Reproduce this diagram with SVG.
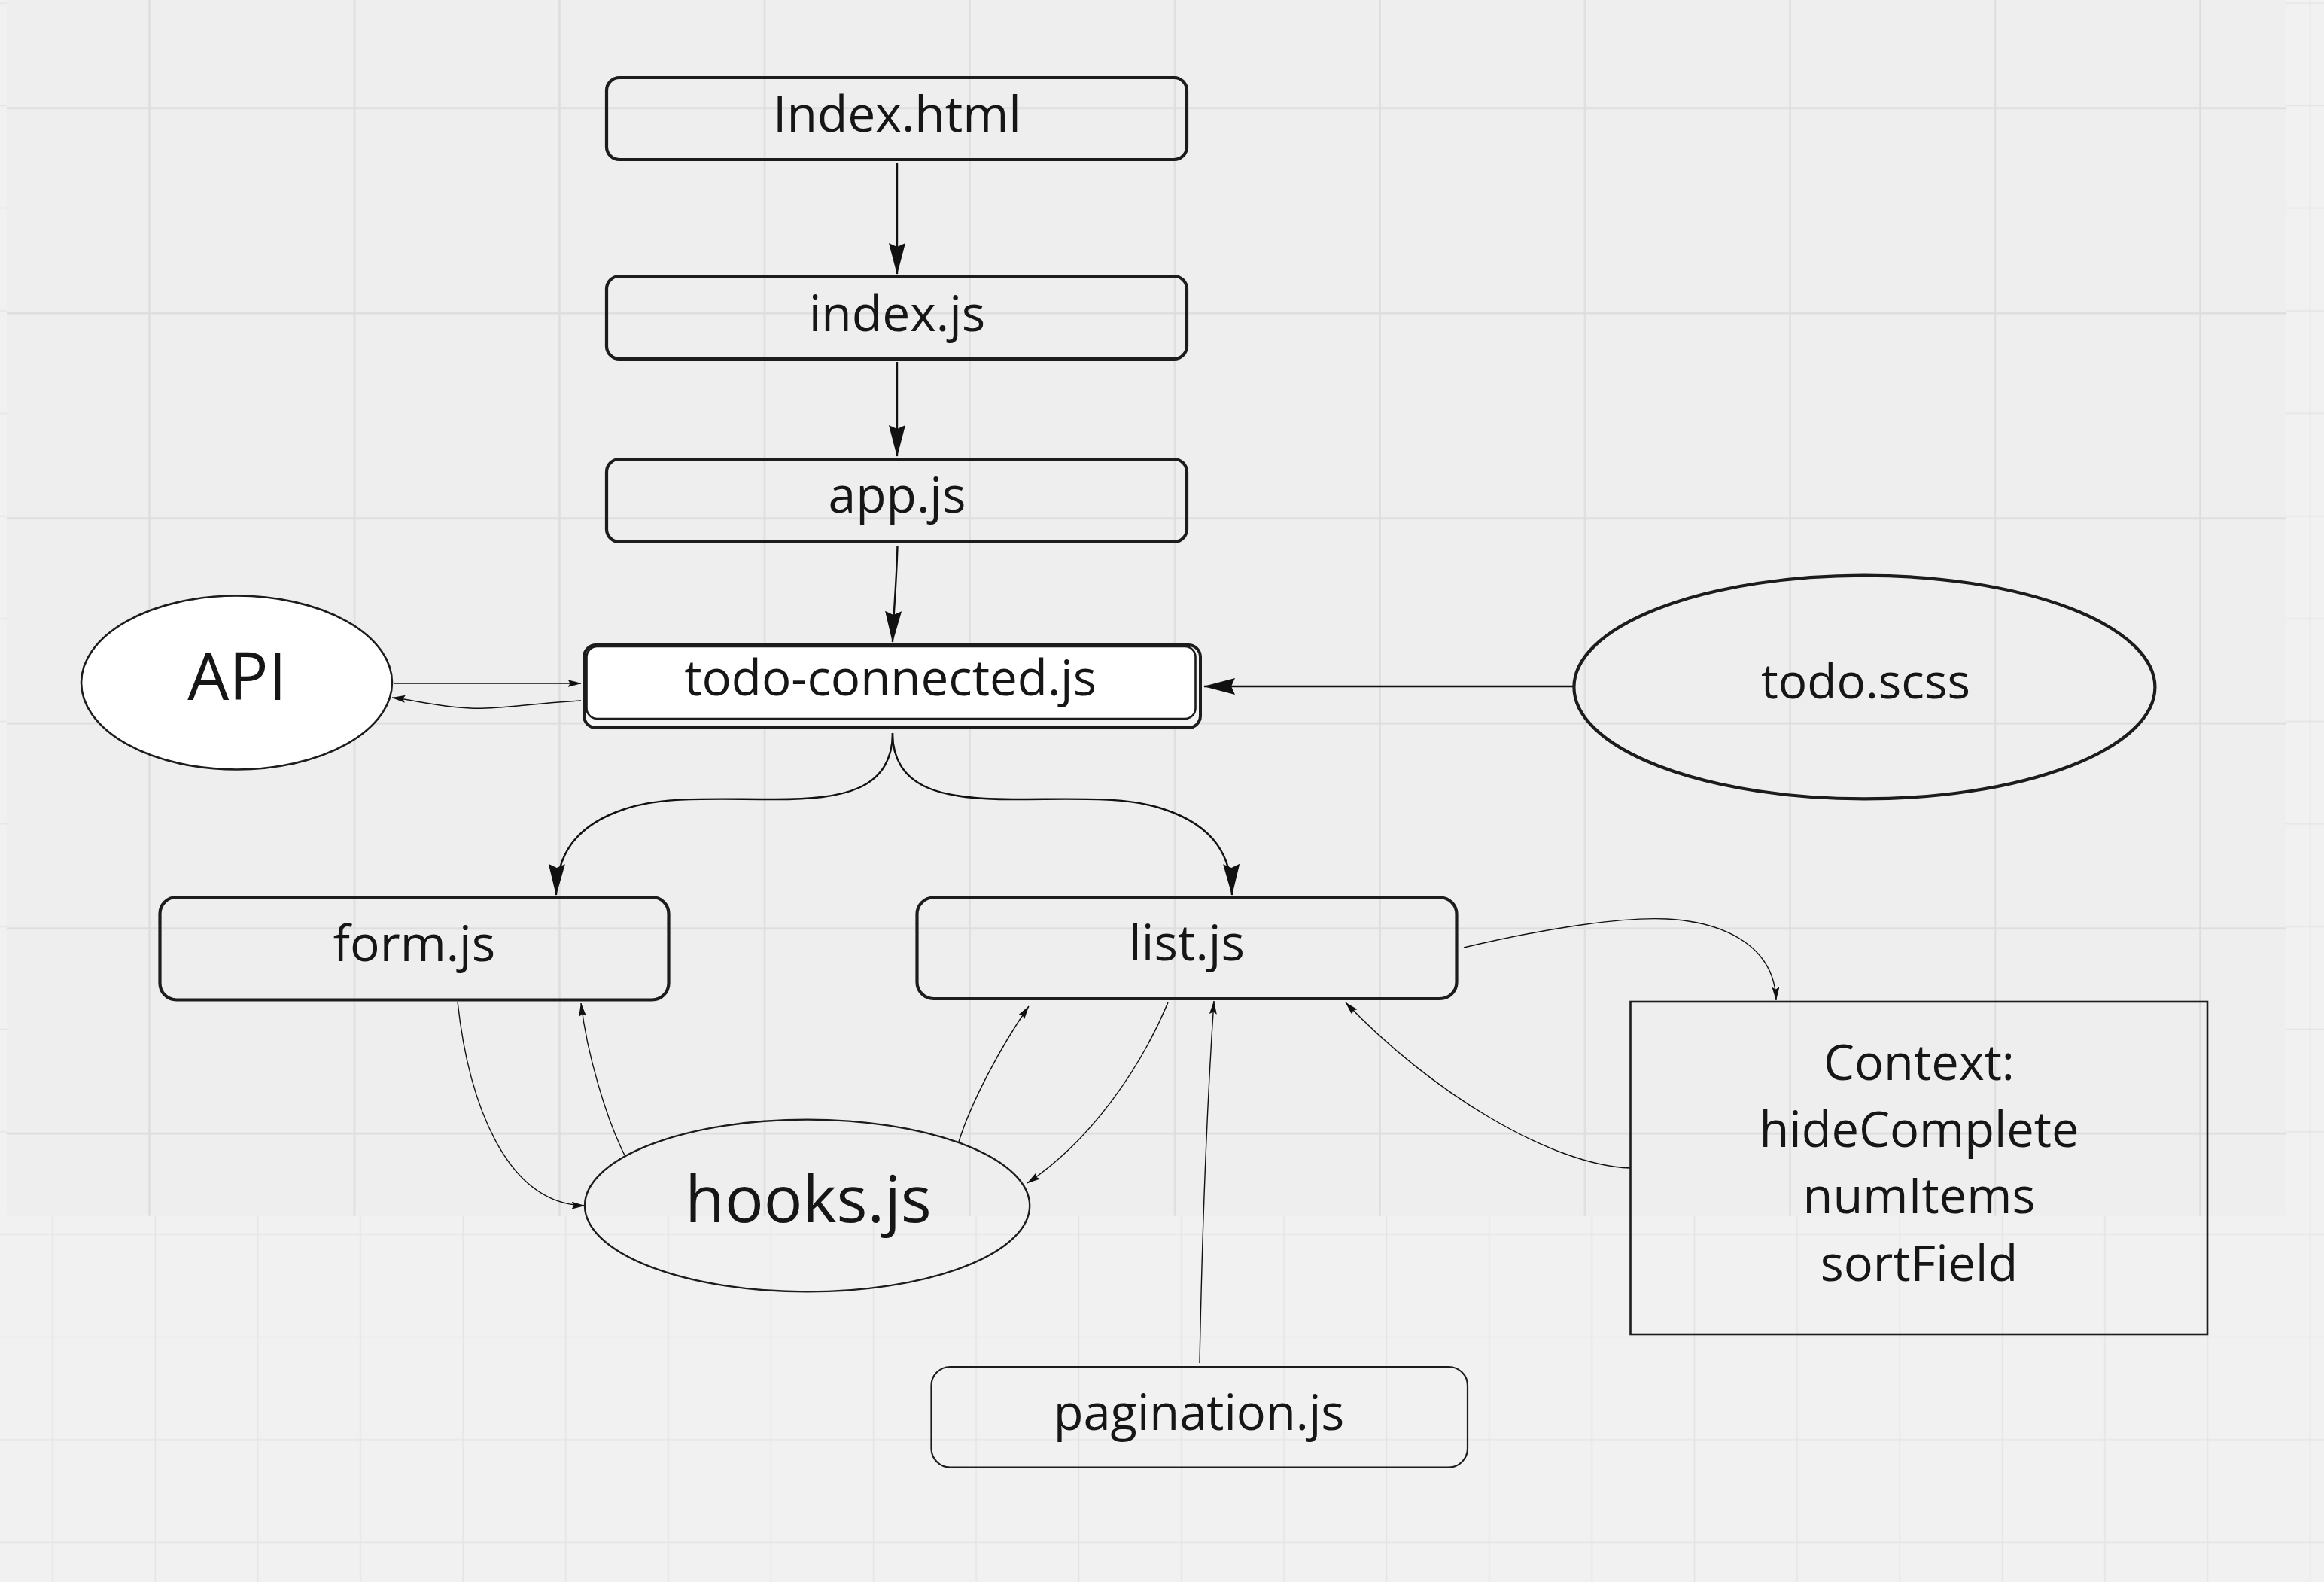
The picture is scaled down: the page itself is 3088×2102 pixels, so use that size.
<svg xmlns="http://www.w3.org/2000/svg" width="3088" height="2102" viewBox="0 0 3088 2102">
<style>
.box{fill:none;stroke:#1c1c1c;stroke-width:4.2}
.lbl{font-family:"Open Sans","Noto Sans",sans-serif;fill:#161616;text-anchor:middle}
.thick{fill:none;stroke:#111;stroke-width:2.4}
.thin{fill:none;stroke:#111;stroke-width:1.4}
</style>
<defs>
<pattern id="fine" patternUnits="userSpaceOnUse" x="138.125" y="-64.175" width="136.35" height="136.35">
<path d="M68.175,0 V136.35 M0,68.175 H136.35" stroke="#e4e4e4" stroke-width="1.6" fill="none"/>
</pattern>
<pattern id="coarse" patternUnits="userSpaceOnUse" x="62.25" y="7.45" width="272.5" height="272.5">
<path d="M136.25,0 V272.5 M0,136.25 H272.5" stroke="#dddddd" stroke-width="2.4" fill="none"/>
</pattern>
<marker id="big" markerUnits="userSpaceOnUse" viewBox="0 0 42 22" refX="41" refY="11" markerWidth="42" markerHeight="22" orient="auto">
<path d="M0,0 L42,11 L0,22 L5,11 z" fill="#111"/>
</marker>
<marker id="small" markerUnits="userSpaceOnUse" viewBox="0 0 18 10" refX="17.5" refY="5" markerWidth="18" markerHeight="10" orient="auto">
<path d="M0,0 L18,5 L0,10 L3,5 z" fill="#111"/>
</marker>
</defs>
<g id="background">
<rect x="0" y="0" width="3088" height="2102" fill="#f1f1f1"/>
<rect x="0" y="0" width="3088" height="2102" fill="url(#fine)"/>
<rect x="9" y="0" width="3028" height="1615.7" fill="#eeeeee"/>
<rect x="9" y="0" width="3028" height="1615.7" fill="url(#coarse)"/>
</g>
<g id="connectors">
<path class="thick" d="M1192,216 V364" marker-end="url(#big)"/>
<path class="thick" d="M1192,481 V606" marker-end="url(#big)"/>
<path class="thick" d="M1192.5,725 C1191,780 1187,815 1186,853" marker-end="url(#big)"/>
<path class="thick" d="M1186,974 C1186,1050 1120,1062 1030,1062 C940,1062 880,1058 830,1075 C760,1098 740,1140 739,1189" marker-end="url(#big)"/>
<path class="thick" d="M1186,974 C1186,1050 1256,1062 1346,1062 C1436,1062 1496,1058 1546,1075 C1616,1098 1636,1140 1637,1189" marker-end="url(#big)"/>
<path class="thick" d="M2090,912 H1600" marker-end="url(#big)"/>
<path class="thin" d="M523,908 H772" marker-end="url(#small)"/>
<path class="thin" d="M772,931 C700,935 660,943 625,941 C580,939 550,930 521,927" marker-end="url(#small)"/>
<path class="thin" d="M608,1331 C622,1460 670,1600 777,1602" marker-end="url(#small)"/>
<path class="thin" d="M830,1535 C805,1485 780,1400 772,1333" marker-end="url(#small)"/>
<path class="thin" d="M1274,1517 C1290,1465 1330,1390 1367,1337" marker-end="url(#small)"/>
<path class="thin" d="M1552,1332 C1515,1420 1450,1515 1365,1572" marker-end="url(#small)"/>
<path class="thin" d="M1594,1811 C1598,1600 1605,1450 1613,1330" marker-end="url(#small)"/>
<path class="thin" d="M1945,1259 C2060,1232 2160,1218 2215,1221 C2300,1226 2358,1262 2360,1329" marker-end="url(#small)"/>
<path class="thin" d="M2166,1552 C2060,1548 1900,1450 1788,1332" marker-end="url(#small)"/>
</g>
<g id="node-index-html">
<rect class="box" x="806" y="103" width="771" height="109" rx="17"/>
<text class="lbl" x="1192" y="175" font-size="66">Index.html</text>
</g>
<g id="node-index-js">
<rect class="box" x="806" y="367" width="771" height="110" rx="17"/>
<text class="lbl" x="1192" y="439.5" font-size="66">index.js</text>
</g>
<g id="node-app-js">
<rect class="box" x="806" y="610" width="771" height="110" rx="17"/>
<text class="lbl" x="1192" y="681" font-size="66">app.js</text>
</g>
<g id="node-todo-connected">
<rect x="776" y="857" width="819" height="110" rx="16" fill="#f4f4f4" stroke="#1c1c1c" stroke-width="4"/>
<rect x="779.5" y="859" width="809" height="96" rx="14" fill="#ffffff" stroke="#1c1c1c" stroke-width="2.6"/>
<text class="lbl" x="1183" y="924" font-size="65.5">todo-connected.js</text>
</g>
<g id="node-api">
<ellipse cx="314.5" cy="907" rx="206.5" ry="115.5" fill="#ffffff" stroke="#1c1c1c" stroke-width="2.6"/>
<text class="lbl" x="315" y="930" font-size="87">API</text>
</g>
<g id="node-todo-scss">
<ellipse cx="2477.4" cy="913" rx="386" ry="148.4" fill="none" stroke="#1c1c1c" stroke-width="4.2"/>
<text class="lbl" x="2479" y="928" font-size="64">todo.scss</text>
</g>
<g id="node-form-js">
<rect class="box" x="212.5" y="1192" width="676" height="136.5" rx="22"/>
<text class="lbl" x="550.5" y="1277" font-size="66">form.js</text>
</g>
<g id="node-list-js">
<rect class="box" x="1218.5" y="1192.5" width="717" height="134.5" rx="22"/>
<text class="lbl" x="1577" y="1276" font-size="66">list.js</text>
</g>
<g id="node-hooks-js">
<ellipse cx="1072.6" cy="1602" rx="295.6" ry="114.4" fill="none" stroke="#1c1c1c" stroke-width="2.4"/>
<text class="lbl" x="1074" y="1624" font-size="86">hooks.js</text>
</g>
<g id="node-pagination-js">
<rect x="1237.5" y="1816" width="712.5" height="133.5" rx="25" fill="none" stroke="#1c1c1c" stroke-width="2.2"/>
<text class="lbl" x="1593" y="1900" font-size="65">pagination.js</text>
</g>
<g id="node-context">
<rect x="2166.5" y="1331" width="766.5" height="442" fill="none" stroke="#1c1c1c" stroke-width="2.6"/>
<text class="lbl" font-size="65"><tspan x="2550" y="1434.5">Context:</tspan><tspan x="2550" y="1524">hideComplete</tspan><tspan x="2550" y="1612">numItems</tspan><tspan x="2550" y="1702">sortField</tspan></text>
</g>
</svg>
